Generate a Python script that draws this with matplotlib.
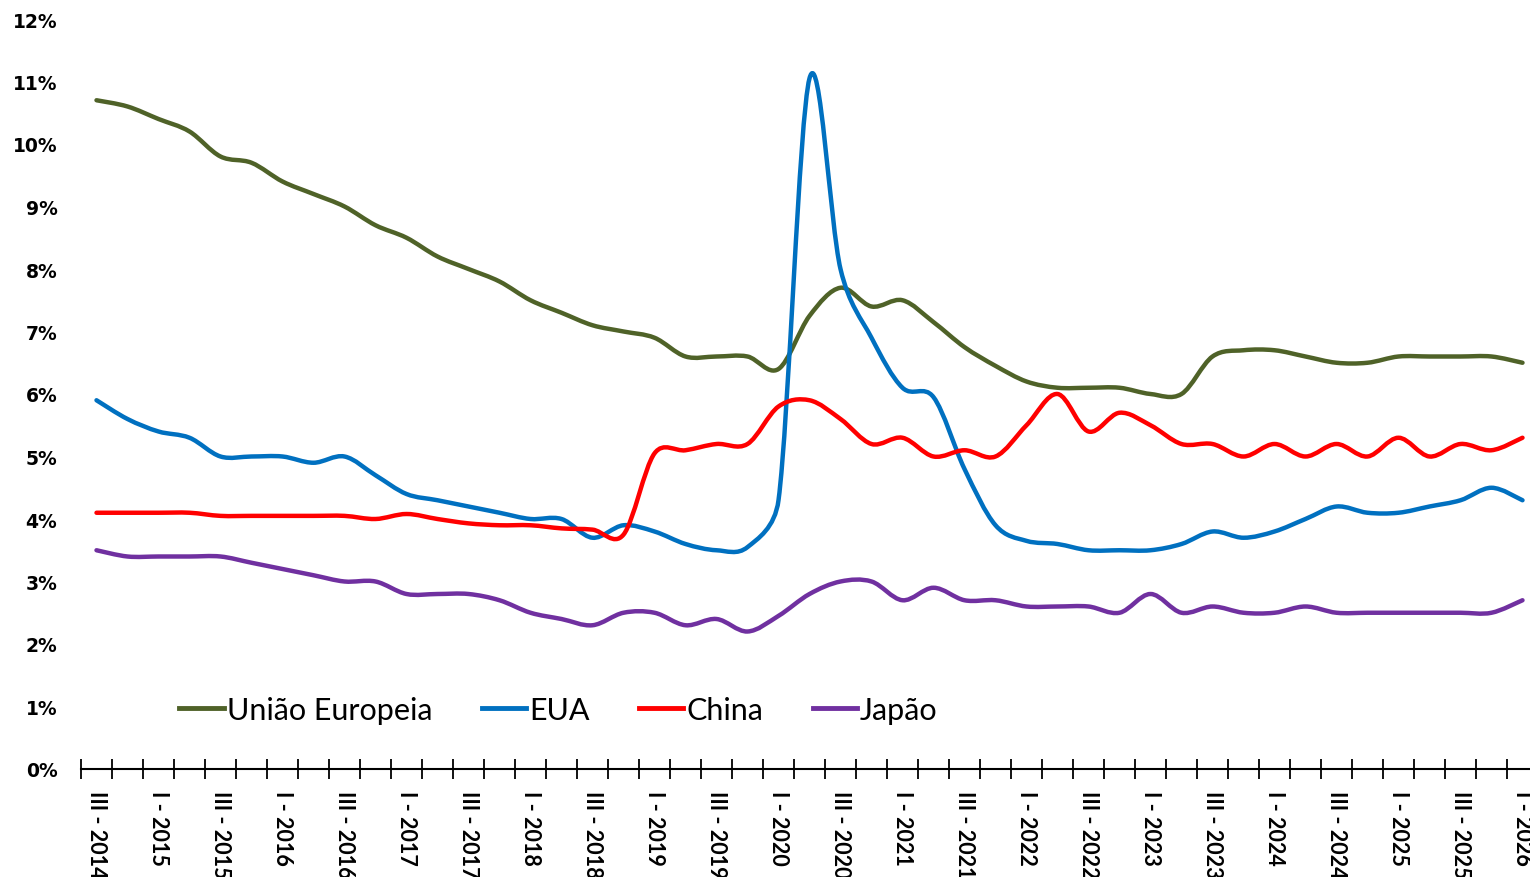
import matplotlib
matplotlib.use("Agg")
import matplotlib.pyplot as plt
import numpy as np
from matplotlib.path import Path
from matplotlib.patches import PathPatch
from matplotlib.lines import Line2D
from matplotlib.ticker import FuncFormatter

# quarters III-2014 .. I-2026
quarters = (["III - 2014", "IV - 2014"]
            + [f"{q} - {y}" for y in range(2015, 2026) for q in ["I", "II", "III", "IV"]]
            + ["I - 2026"])

uniao_europeia = [10.7, 10.6, 10.4, 10.2, 9.8, 9.7, 9.4, 9.2, 9.0, 8.7, 8.5, 8.2, 8.0, 7.8,
                  7.5, 7.3, 7.1, 7.0, 6.9, 6.6, 6.6, 6.6, 6.4, 7.25, 7.7, 7.4, 7.5, 7.15,
                  6.75, 6.45, 6.2, 6.1, 6.1, 6.1, 6.0, 6.0, 6.6, 6.7, 6.7, 6.6, 6.5, 6.5,
                  6.6, 6.6, 6.6, 6.6, 6.5]
eua = [5.9, 5.6, 5.4, 5.3, 5.0, 5.0, 5.0, 4.9, 5.0, 4.7, 4.4, 4.3, 4.2, 4.1,
       4.0, 4.0, 3.7, 3.9, 3.8, 3.6, 3.5, 3.55, 4.3, 11.05, 8.0, 6.9, 6.1, 5.95,
       4.8, 3.9, 3.65, 3.6, 3.5, 3.5, 3.5, 3.6, 3.8, 3.7, 3.8, 4.0, 4.2, 4.1,
       4.1, 4.2, 4.3, 4.5, 4.3]
china = [4.1, 4.1, 4.1, 4.1, 4.05, 4.05, 4.05, 4.05, 4.05, 4.0, 4.08, 4.0, 3.93, 3.9,
         3.9, 3.85, 3.83, 3.75, 5.05, 5.1, 5.2, 5.2, 5.8, 5.9, 5.6, 5.2, 5.3, 5.0,
         5.1, 5.0, 5.5, 6.0, 5.4, 5.7, 5.5, 5.2, 5.2, 5.0, 5.2, 5.0, 5.2, 5.0,
         5.3, 5.0, 5.2, 5.1, 5.3]
japao = [3.5, 3.4, 3.4, 3.4, 3.4, 3.3, 3.2, 3.1, 3.0, 3.0, 2.8, 2.8, 2.8, 2.7,
         2.5, 2.4, 2.3, 2.5, 2.5, 2.3, 2.4, 2.2, 2.45, 2.8, 3.0, 3.0, 2.7, 2.9,
         2.7, 2.7, 2.6, 2.6, 2.6, 2.5, 2.8, 2.5, 2.6, 2.5, 2.5, 2.6, 2.5, 2.5,
         2.5, 2.5, 2.5, 2.5, 2.7]

series = [
    ("União Europeia", uniao_europeia, "#4F6228"),
    ("EUA", eua, "#0070C0"),
    ("China", china, "#FF0000"),
    ("Japão", japao, "#7030A0"),
]


def smooth_path(x, y, sx=31.0, sy=62.5):
    # cubic bezier through every point (catmull-rom handles), with each handle
    # kept shorter than half its segment so a sharp jump doesn't ripple its neighbours
    pts = np.column_stack([np.asarray(x, float) * sx, np.asarray(y, float) * sy])
    n = len(pts)

    def handle(d, seg):
        h = np.hypot(*d)
        lim = 0.5 * seg
        return d * (lim / h) if h > lim else d

    verts = [pts[0]]
    codes = [Path.MOVETO]
    for i in range(n - 1):
        p0 = pts[i - 1] if i > 0 else pts[i]
        p1 = pts[i]
        p2 = pts[i + 1]
        p3 = pts[i + 2] if i + 2 < n else pts[i + 1]
        seg = np.hypot(*(p2 - p1))
        c1 = p1 + handle((p2 - p0) / 6.0, seg)
        c2 = p2 - handle((p3 - p1) / 6.0, seg)
        verts += [c1, c2, p2]
        codes += [Path.CURVE4] * 3
    return Path(np.array(verts) / [sx, sy], codes)


fig = plt.figure(figsize=(15.3, 8.78), dpi=100)
ax = fig.add_axes([81 / 1530, 108 / 878, 1457 / 1530, 750 / 878])

x = np.arange(len(quarters))
for name, vals, color in series:
    patch = PathPatch(smooth_path(x, vals), facecolor="none", edgecolor=color,
                      lw=3.2, capstyle="round", joinstyle="round")
    ax.add_patch(patch)

ax.set_xlim(-0.5, len(quarters) - 0.5)
ax.set_ylim(0, 12)

ax.set_yticks(range(0, 13))
ax.yaxis.set_major_formatter(FuncFormatter(lambda v, p: f"{v:.0f}%"))
ax.tick_params(axis="y", length=0, pad=17)
for lbl in ax.get_yticklabels():
    lbl.set_fontfamily("DejaVu Sans")
    lbl.set_fontweight("bold")
    lbl.set_fontsize(13.5)

ax.set_xticks(x[::2])
ax.set_xticklabels(quarters[::2], rotation=-90, fontsize=15.5, fontweight="bold",
                   family="Lato", va="top", ha="center")
ax.set_xticks(np.arange(-0.5, len(quarters)), minor=True)
ax.tick_params(axis="x", which="major", length=0, pad=15)
ax.tick_params(axis="x", which="minor", direction="inout", length=14, width=1.3)

for s in ["top", "right", "left"]:
    ax.spines[s].set_visible(False)
ax.spines["bottom"].set_linewidth(1.5)

handles = [Line2D([], [], color=c, lw=3.5) for _, _, c in series]
fig.legend(handles, [n for n, _, _ in series], loc="center left",
           bbox_to_anchor=(164 / 1530, 1 - 711 / 878), ncol=4, frameon=False,
           prop={"family": "Lato", "size": 22}, handlelength=1.45,
           handletextpad=0.1, columnspacing=1.62, borderpad=0)

fig.savefig("out.png", dpi=100)
